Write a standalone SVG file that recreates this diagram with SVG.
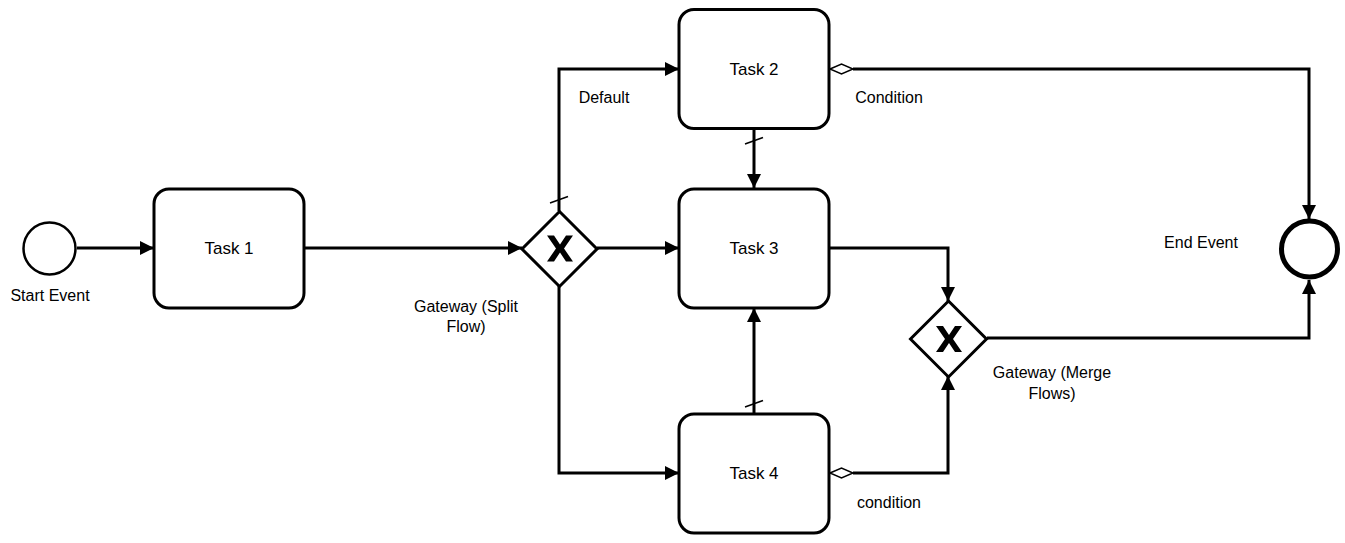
<svg xmlns="http://www.w3.org/2000/svg" width="1345" height="543" viewBox="0 0 1345 543">
<style>
.task{fill:#fff;stroke:#000;stroke-width:3}
.gw{fill:#fff;stroke:#000;stroke-width:3}
.lbl{font-family:"Liberation Sans",Arial,sans-serif;font-size:16px;fill:#000;text-anchor:middle}
.tl{font-family:"Liberation Sans",Arial,sans-serif;font-size:17px;fill:#000;text-anchor:middle}
.edge{fill:none;stroke:#000;stroke-width:3}
.tick{fill:none;stroke:#000;stroke-width:1.5}
.cond{fill:#fff;stroke:#000;stroke-width:1.5}
</style>
<defs>
<marker id="arr" markerUnits="userSpaceOnUse" markerWidth="15" markerHeight="14" refX="14" refY="7" orient="auto">
<path d="M0,0 L14,7 L0,14 z" fill="#000"/>
</marker>
</defs>
<g id="connectors">
<path class="edge" d="M77,248 H154" marker-end="url(#arr)"/>
<path class="edge" d="M304,248 H522" marker-end="url(#arr)"/>
<path class="edge" d="M597,248 H679" marker-end="url(#arr)"/>
<path class="edge" d="M559,211 V69 H679" marker-end="url(#arr)"/>
<line class="tick" x1="550" y1="203" x2="568" y2="196.5"/>
<path class="edge" d="M559,286 V473 H679" marker-end="url(#arr)"/>
<path class="edge" d="M754,129 V188" marker-end="url(#arr)"/>
<line class="tick" x1="745" y1="144" x2="763" y2="137.5"/>
<path class="edge" d="M754,413 V308" marker-end="url(#arr)"/>
<line class="tick" x1="745" y1="407" x2="763" y2="400.5"/>
<path class="edge" d="M853,69 H1309 V219" marker-end="url(#arr)"/>
<path class="cond" d="M830,69 L841.5,64 L853,69 L841.5,74 z"/>
<path class="edge" d="M829,248 H948 V301" marker-end="url(#arr)"/>
<path class="edge" d="M853,473 H948 V376" marker-end="url(#arr)"/>
<path class="cond" d="M830,473 L841.5,468 L853,473 L841.5,478 z"/>
<path class="edge" d="M987,338 H1309 V280" marker-end="url(#arr)"/>
<text class="lbl" x="604" y="103">Default</text>
<text class="lbl" x="889" y="103">Condition</text>
<text class="lbl" x="889" y="508">condition</text>
</g>
<g id="start">
<circle cx="49.5" cy="248.5" r="26" fill="#fff" stroke="#000" stroke-width="2.5"/>
<text class="lbl" x="50" y="301">Start Event</text>
</g>
<g id="task1">
<rect class="task" x="154" y="189" width="150" height="119" rx="15"/>
<text class="tl" x="229" y="254">Task 1</text>
</g>
<g id="task2">
<rect class="task" x="679" y="9.5" width="150" height="119" rx="15"/>
<text class="tl" x="754" y="75">Task 2</text>
</g>
<g id="task3">
<rect class="task" x="679" y="189" width="150" height="119" rx="15"/>
<text class="tl" x="754" y="254">Task 3</text>
</g>
<g id="task4">
<rect class="task" x="679" y="414" width="150" height="119" rx="15"/>
<text class="tl" x="754" y="479">Task 4</text>
</g>
<g id="gateway1">
<path class="gw" d="M559.5,211.5 L597,249 L559.5,286.5 L522,249 z"/>
<path transform="translate(560,248.5)" fill="#000" d="M-13,-13 L-6,-13 L0,-4 L6,-13 L13,-13 L4,0 L13,13 L6,13 L0,4 L-6,13 L-13,13 L-4,0 z"/>
<text class="lbl" x="466" y="312">Gateway (Split</text>
<text class="lbl" x="466" y="332">Flow)</text>
</g>
<g id="gateway2">
<path class="gw" d="M948.5,301 L986.5,339 L948.5,377 L910.5,339 z"/>
<path transform="translate(949,339)" fill="#000" d="M-13,-13 L-6,-13 L0,-4 L6,-13 L13,-13 L4,0 L13,13 L6,13 L0,4 L-6,13 L-13,13 L-4,0 z"/>
<text class="lbl" x="1052" y="378">Gateway (Merge</text>
<text class="lbl" x="1052" y="399">Flows)</text>
</g>
<g id="end">
<circle cx="1309.5" cy="249" r="28" fill="#fff" stroke="#000" stroke-width="5"/>
<text class="lbl" x="1201" y="248">End Event</text>
</g>
</svg>
